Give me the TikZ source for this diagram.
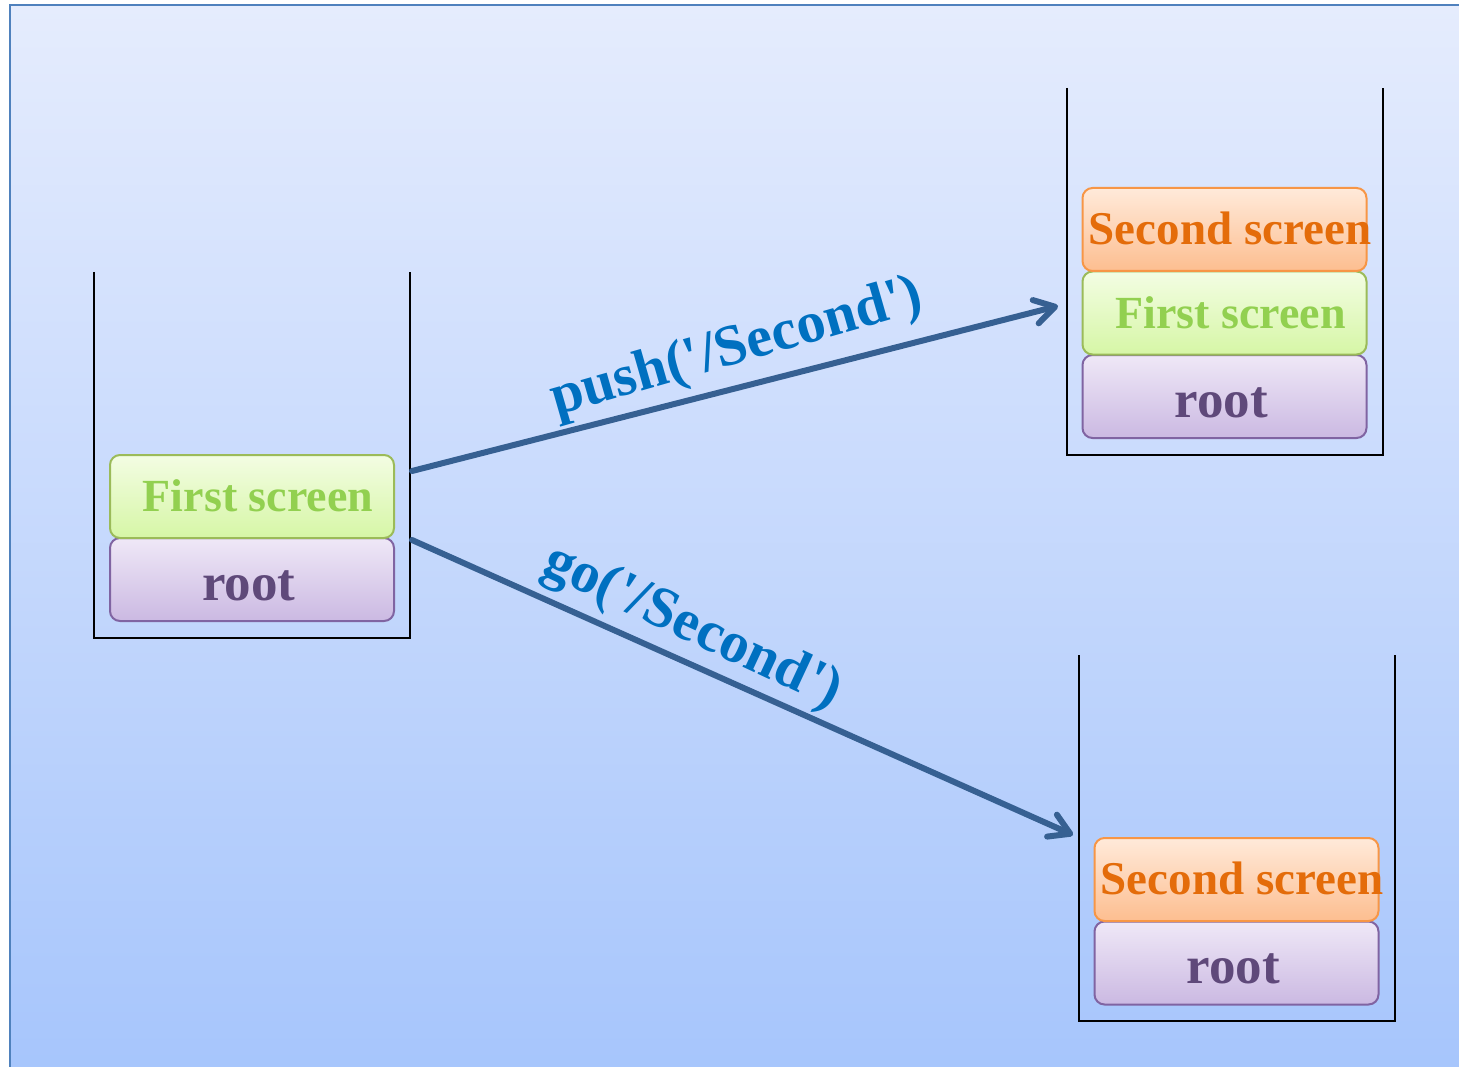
\documentclass[tikz,border=0pt]{standalone}
\usepackage{fontspec}
\setmainfont{Liberation Serif}
\usetikzlibrary{arrows.meta}

\definecolor{bgTop}{RGB}{229,236,253}
\definecolor{bgBot}{RGB}{166,197,252}
\definecolor{bgLine}{RGB}{79,129,189}
\definecolor{arrowBlue}{RGB}{54,96,146}
\definecolor{labelBlue}{RGB}{0,112,192}
\definecolor{grnLine}{RGB}{155,187,89}
\definecolor{grnTop}{RGB}{243,253,227}
\definecolor{grnBot}{RGB}{214,246,166}
\definecolor{grnText}{RGB}{146,208,80}
\definecolor{orgLine}{RGB}{247,150,70}
\definecolor{orgTop}{RGB}{255,234,218}
\definecolor{orgBot}{RGB}{253,190,144}
\definecolor{orgText}{RGB}{228,108,10}
\definecolor{prpLine}{RGB}{128,100,162}
\definecolor{prpTop}{RGB}{239,232,247}
\definecolor{prpBot}{RGB}{203,185,226}
\definecolor{prpText}{RGB}{95,73,122}

% centred label that never widens its card
\newcommand{\cardtext}[2]{\makebox[0pt]{\hspace{#1}#2}}

\tikzset{
  frame/.style={draw=black, line width=2.2pt},
  card/.style={rounded corners=10pt, line width=2pt, minimum width=284pt,
    minimum height=83pt, inner sep=0pt, text depth=0pt,
    font=\bfseries\fontsize{46}{50}\selectfont},
  rootcard/.style={card, draw=prpLine, top color=prpTop, bottom color=prpBot,
    text=prpText, text height=41pt, font=\bfseries\fontsize{53}{56}\selectfont},
  firstcard/.style={card, draw=grnLine, top color=grnTop, bottom color=grnBot,
    text=grnText, text height=30pt},
  secondcard/.style={card, draw=orgLine, top color=orgTop, bottom color=orgBot,
    text=orgText, text height=30pt, font=\bfseries\fontsize{47}{50}\selectfont},
  move/.style={draw=arrowBlue, line width=6pt, line cap=round,
    -{Straight Barb[length=20pt, width=24pt, line cap=round, line join=round]}},
  movelabel/.style={text=labelBlue, inner sep=0pt,
    font=\bfseries\fontsize{58}{62}\selectfont}
}

\begin{document}
\begin{tikzpicture}[x=1pt, y=-1pt]
  \useasboundingbox (0,0) rectangle (1459,1067);
  \fill[white] (0,0) rectangle (1459,1067);
  % backdrop panel
  \shade[top color=bgTop, bottom color=bgBot, draw=bgLine, line width=2.5pt]
    (10,5) rectangle (1470,1080);

  % stack containers
  \draw[frame] (94,272) -- (94,638) -- (410,638) -- (410,272);
  \draw[frame] (1067,88) -- (1067,455) -- (1383,455) -- (1383,88);
  \draw[frame] (1079,655) -- (1079,1021) -- (1395,1021) -- (1395,655);

  % initial stack
  \node[rootcard] (rootA) at (252,579.5) {\cardtext{-6pt}{root}};
  \node[firstcard] (firstA) at (252,496.5) {\cardtext{12pt}{First screen}};

  % stack after push
  \node[rootcard] (rootB) at (1224.5,396.5) {\cardtext{-6pt}{root}};
  \node[firstcard] (firstB) at (1224.5,313) {\cardtext{12pt}{First screen}};
  \node[secondcard] (secondB) at (1224.5,229.5) {\cardtext{11pt}{Second screen}};

  % stack after go
  \node[rootcard] (rootC) at (1236.5,963) {\cardtext{-6pt}{root}};
  \node[secondcard] (secondC) at (1236.5,879.5) {\cardtext{11pt}{Second screen}};

  % transitions
  \coordinate (pushFrom) at (412,471);
  \coordinate (pushTo) at (1058,306);
  \coordinate (goFrom) at (412,540);
  \coordinate (goTo) at (1073,835);
  \draw[move] (pushFrom) -- (pushTo);
  \draw[move] (goFrom) -- (goTo);

  \node[movelabel, rotate=16] (pushLbl) at (737,349)
    {push(\textquotesingle/Second\textquotesingle)};
  \node[movelabel, rotate=-25] (goLbl) at (692,628)
    {go(\textquotesingle/Second\textquotesingle)};
\end{tikzpicture}
\end{document}
